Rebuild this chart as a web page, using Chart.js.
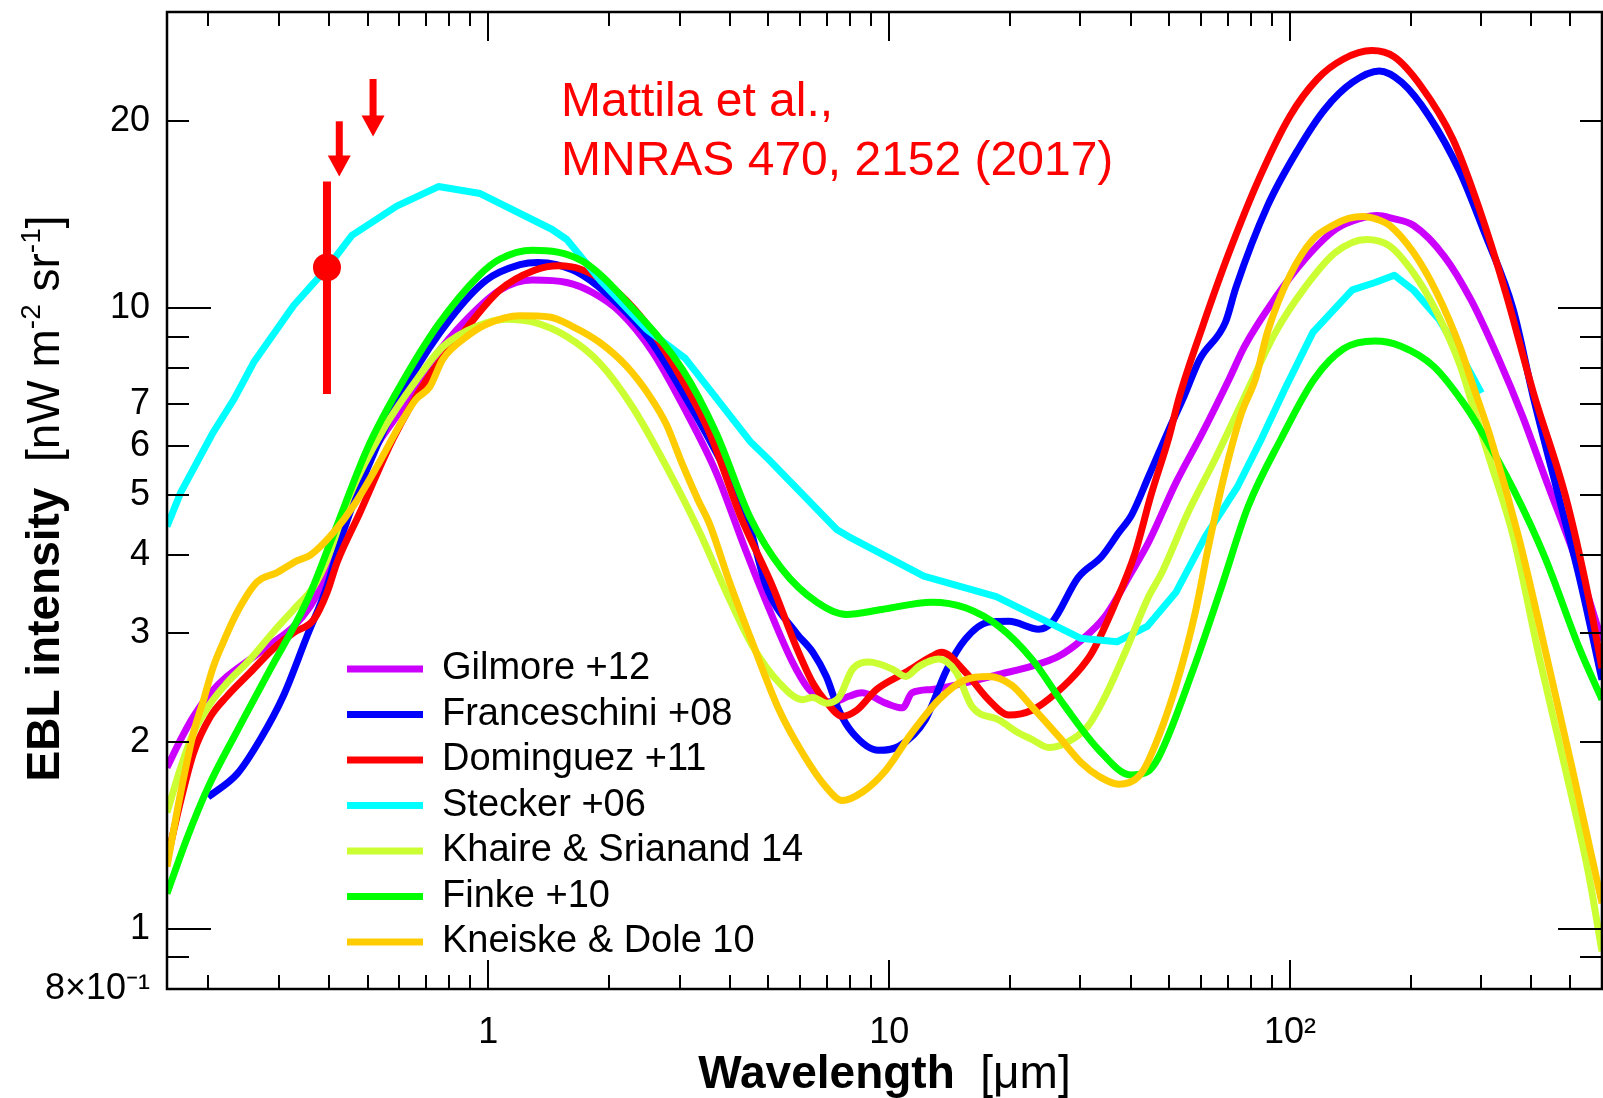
<!DOCTYPE html>
<html>
<head>
<meta charset="utf-8">
<script src="https://cdn.jsdelivr.net/npm/chart.js@4"></script>
<style>
  body { margin: 0; background: #fff; }
  canvas { display: block; }
</style>
</head>
<body>
<canvas id="eblChart" width="1603" height="1098"></canvas>
<script>
// wavelength [um], intensity [nW m^-2 sr^-1]
const gilmore = [[0.158,1.82],[0.171,2.02],[0.184,2.2],[0.203,2.4],[0.223,2.55],[0.255,2.72],[0.29,2.89],[0.327,3.07],[0.36,3.31],[0.388,3.62],[0.41,3.93],[0.5,5.64],[0.6,6.8],[0.73,8.3],[0.884,9.6],[1.07,10.7],[1.29,11.1],[1.57,11.0],[1.82,10.6],[2.13,9.86],[2.57,8.5],[3.12,6.8],[3.7,5.44],[4.4,4.05],[4.94,3.36],[5.74,2.69],[6.32,2.43],[7.23,2.32],[7.94,2.37],[8.55,2.4],[9.8,2.31],[10.8,2.27],[11.4,2.4],[12.8,2.43],[15.5,2.49],[18.8,2.57],[22.7,2.65],[26.5,2.75],[30.2,2.92],[34.6,3.19],[40.2,3.75],[44.4,4.2],[51.9,5.23],[60.4,6.29],[70.5,7.69],[77,8.68],[92,10.4],[109,12.0],[130,13.4],[150,13.95],[165,14.1],[180,13.95],[203,13.6],[243,12.1],[283,10.3],[331,8.3],[380,6.7],[432,5.35],[527,3.79],[600,2.91]];
const franceschini = [[0.2,1.63],[0.237,1.78],[0.27,2.02],[0.308,2.37],[0.353,2.96],[0.396,3.56],[0.434,4.35],[0.528,6.0],[0.638,7.68],[0.803,9.6],[0.99,11.1],[1.2,11.75],[1.33,11.85],[1.48,11.75],[1.72,11.3],[2.09,10.2],[2.53,8.9],[3.05,7.33],[3.7,5.86],[4.4,4.65],[4.94,3.56],[5.86,3.0],[6.45,2.79],[6.97,2.55],[7.49,2.25],[8.1,2.07],[9.4,1.94],[10.6,1.97],[12.3,2.17],[13.9,2.61],[15.5,2.93],[17.7,3.12],[19.9,3.13],[23.6,3.04],[25.5,3.12],[29.6,3.68],[33.9,3.98],[37.4,4.35],[40.3,4.65],[44.4,5.36],[49.9,6.38],[54.4,7.21],[59.5,8.27],[69,9.49],[73.3,10.8],[87.8,14.6],[104.6,18.0],[122,20.9],[143,23.1],[167,24.1],[190,23.1],[222,20.4],[265,16.6],[306,13.2],[360,9.97],[404,7.21],[469,4.94],[527,3.68],[600,2.52]];
const dominguez = [[0.158,1.29],[0.171,1.61],[0.184,1.92],[0.203,2.2],[0.223,2.37],[0.255,2.59],[0.29,2.82],[0.327,3.0],[0.367,3.15],[0.396,3.48],[0.42,3.9],[0.479,4.69],[0.579,6.16],[0.703,7.68],[0.85,9.0],[1.07,10.7],[1.3,11.5],[1.5,11.7],[1.7,11.55],[2.0,10.9],[2.43,9.6],[2.94,7.97],[3.56,6.31],[4.27,4.6],[5.12,3.56],[5.86,2.85],[6.45,2.49],[6.97,2.32],[7.64,2.2],[8.3,2.25],[9.3,2.43],[11.0,2.59],[12.8,2.75],[13.5,2.79],[15.5,2.59],[17.7,2.34],[19.9,2.21],[22.7,2.25],[26.1,2.4],[30.2,2.64],[32.1,2.79],[36.3,3.3],[41,4.02],[45,5.0],[49.9,6.2],[53,7.21],[60.5,9.34],[70.5,12.3],[84.2,16.3],[100,20.4],[117,23.4],[136,25.2],[160,26.0],[182,25.4],[212,22.8],[255,18.7],[295,14.6],[345,10.6],[404,7.33],[488,4.94],[555,3.43],[600,2.63]];
const stecker = [[0.158,4.45],[0.171,5.05],[0.206,6.31],[0.232,7.13],[0.26,8.18],[0.327,10.1],[0.396,11.6],[0.457,13.1],[0.517,13.8],[0.591,14.6],[0.751,15.7],[0.955,15.3],[1.44,13.4],[1.57,12.9],[1.9,11.1],[2.48,9.25],[3.1,8.3],[4.5,6.1],[5.0,5.71],[7.4,4.4],[7.9,4.29],[12.2,3.7],[18.5,3.43],[30,2.94],[37,2.9],[44,3.07],[52,3.49],[61.5,4.29],[74,5.16],[85,6.17],[97,7.4],[114,9.14],[143,10.7],[163,11.0],[182,11.3],[203,10.7],[235,9.6],[270,8.28],[300,7.3]];
const khaire = [[0.158,1.54],[0.171,1.82],[0.184,2.07],[0.203,2.31],[0.223,2.49],[0.255,2.72],[0.29,3.0],[0.327,3.27],[0.367,3.56],[0.396,3.93],[0.45,4.97],[0.547,6.37],[0.664,7.68],[0.77,8.66],[0.937,9.35],[1.11,9.6],[1.29,9.5],[1.57,9.0],[1.9,8.15],[2.29,6.93],[2.78,5.56],[3.37,4.35],[3.93,3.48],[4.57,2.85],[5.32,2.49],[6.08,2.34],[6.45,2.36],[6.97,2.31],[7.5,2.36],[8.1,2.62],[8.9,2.69],[10.2,2.62],[11.0,2.55],[11.9,2.65],[13.3,2.72],[14.7,2.59],[16.1,2.28],[18.8,2.17],[21.0,2.07],[22.7,2.02],[25,1.96],[27.5,1.99],[31.3,2.12],[34.6,2.37],[38.8,2.79],[44.4,3.43],[47.9,3.75],[55.7,4.69],[65,5.71],[75.5,7.0],[92,9.14],[109,10.8],[130,12.3],[155,12.9],[177,12.6],[203,11.4],[232,9.86],[266,8.07],[283,7.1],[314,5.73],[361,4.27],[418,2.75],[490,1.77],[555,1.23],[600,0.92]];
const finke = [[0.158,1.14],[0.178,1.41],[0.2,1.69],[0.237,2.09],[0.286,2.62],[0.354,3.39],[0.41,4.3],[0.5,5.95],[0.6,7.45],[0.75,9.4],[0.95,11.3],[1.07,12.0],[1.29,12.4],[1.72,11.9],[2.29,10.0],[3.05,7.97],[3.7,6.3],[4.5,4.6],[5.4,3.8],[6.6,3.36],[7.8,3.21],[9.6,3.27],[12.8,3.36],[15.5,3.29],[18.8,3.07],[22.7,2.72],[27.5,2.28],[33.4,1.94],[40,1.77],[44,1.79],[47,1.89],[57,2.59],[67.5,3.56],[78.6,4.79],[95,6.16],[115,7.69],[136,8.6],[163,8.85],[189,8.68],[228,8.06],[270,7.05],[295,6.45],[361,5.1],[432,3.97],[527,2.83],[600,2.34]];
const kneiske = [[0.158,1.26],[0.171,1.66],[0.184,2.07],[0.195,2.34],[0.206,2.64],[0.218,2.89],[0.236,3.23],[0.265,3.62],[0.297,3.75],[0.334,3.92],[0.36,4.0],[0.411,4.35],[0.46,4.79],[0.528,5.56],[0.603,6.5],[0.66,7.13],[0.715,7.47],[0.77,8.27],[0.884,9.0],[0.99,9.42],[1.2,9.72],[1.42,9.68],[1.62,9.35],[1.9,8.8],[2.21,8.07],[2.53,7.21],[2.78,6.5],[3.05,5.6],[3.34,4.9],[3.56,4.5],[3.98,3.65],[4.55,2.9],[5.32,2.25],[6.08,1.92],[6.97,1.69],[7.64,1.61],[8.56,1.66],[9.8,1.8],[11.4,2.07],[13.3,2.34],[15.5,2.52],[17.7,2.55],[20.2,2.47],[22.7,2.28],[26.5,2.04],[30.2,1.85],[33.4,1.76],[37.4,1.71],[41.9,1.76],[44.4,1.87],[51.9,2.46],[58,3.23],[62.6,4.13],[68.8,5.43],[75.8,6.8],[82,7.69],[87.8,9.14],[100,11.3],[114,12.9],[128,13.6],[140,13.95],[152,14.05],[165,13.9],[177,13.6],[203,12.3],[232,10.6],[265,8.68],[286,7.5],[317,6.16],[372,4.27],[432,2.83],[505,1.82],[600,1.1]];

// Mattila et al. 2017 measurement and upper limits
const mattilaX = [0.396];
const mattilaY = [11.63];
const mattilaLow = [7.27];
const mattilaHigh = [16.0];
const limitX = [0.425, 0.516];
const limitTop = [20.0, 23.4];
const limitTip = [16.3, 18.9];

// axis ticks
const xTickValues = [0.2,0.3,0.4,0.5,0.6,0.7,0.8,0.9,1,2,3,4,5,6,7,8,9,10,20,30,40,50,60,70,80,90,100,200,300,400,500];
const xMajor = [1, 10, 100];
const xTickLabels = { 1: "1", 10: "10", 100: "10²" };
const yTickValues = [0.9,1,2,3,4,5,6,7,8,9,10,20];
const yMajor = [1, 10];
const yTickLabels = { 0.8: "8×10⁻¹", 1: "1", 2: "2", 3: "3", 4: "4", 5: "5", 6: "6", 7: "7", 10: "10", 20: "20" };
const yLabelValues = [0.8,0.9,1,2,3,4,5,6,7,8,9,10,20];

const FONT = "'Liberation Sans', Arial, Helvetica, sans-serif";

const models = [
  { label: "Gilmore +12", color: "#cc00ff", points: gilmore },
  { label: "Franceschini +08", color: "#0000ff", points: franceschini },
  { label: "Dominguez +11", color: "#ff0000", points: dominguez },
  { label: "Stecker +06", color: "#00ffff", points: stecker, straight: true },
  { label: "Khaire & Srianand 14", color: "#ccff33", points: khaire },
  { label: "Finke +10", color: "#00ff00", points: finke },
  { label: "Kneiske & Dole 10", color: "#ffcc00", points: kneiske },
];

const datasets = models.map((m, i) => ({
  label: m.label,
  data: m.points.map((p) => ({ x: p[0], y: p[1] })),
  borderColor: m.color,
  backgroundColor: m.color,
  borderWidth: 7,
  pointRadius: 0,
  fill: false,
  tension: m.straight ? 0 : 0.4,
  cubicInterpolationMode: m.straight ? "default" : "monotone",
  borderJoinStyle: "round",
  clip: 0,
  order: 20 - i,
}));

datasets.push({
  label: "errorbar",
  data: [{ x: mattilaX[0], y: mattilaLow[0] }, { x: mattilaX[0], y: mattilaHigh[0] }],
  borderColor: "#ff0000",
  borderWidth: 8,
  pointRadius: 0,
  tension: 0,
  order: 1,
});
datasets.push({
  label: "Mattila",
  type: "scatter",
  data: mattilaX.map((x, i) => ({ x: x, y: mattilaY[i] })),
  backgroundColor: "#ff0000",
  borderWidth: 0,
  pointRadius: 14,
  order: 0,
});

const whiteBg = {
  id: "whiteBg",
  beforeDraw(chart) {
    const ctx = chart.ctx;
    ctx.save();
    ctx.fillStyle = "#fff";
    ctx.fillRect(0, 0, chart.width, chart.height);
    ctx.restore();
  },
};

// frame with inward ticks on all four sides
const frame = {
  id: "frame",
  afterDatasetsDraw(chart) {
    const { ctx, chartArea: a, scales } = chart;
    ctx.save();
    ctx.strokeStyle = "#000";
    ctx.lineWidth = 2;
    ctx.beginPath();
    xTickValues.forEach((v) => {
      const px = Math.round(scales.x.getPixelForValue(v));
      const len = xMajor.includes(v) ? 29 : 14;
      ctx.moveTo(px, a.bottom);
      ctx.lineTo(px, a.bottom - len);
      ctx.moveTo(px, a.top);
      ctx.lineTo(px, a.top + len);
    });
    yTickValues.forEach((v) => {
      const py = Math.round(scales.y.getPixelForValue(v));
      const len = yMajor.includes(v) ? 44 : 22;
      ctx.moveTo(a.left, py);
      ctx.lineTo(a.left + len, py);
      ctx.moveTo(a.right, py);
      ctx.lineTo(a.right - len, py);
    });
    ctx.stroke();
    ctx.lineWidth = 2.5;
    ctx.strokeRect(a.left, a.top, a.right - a.left, a.bottom - a.top);
    ctx.restore();
  },
};

function placeRuns(ctx, runs, cx, baseY) {
  let w = 0;
  runs.forEach((r) => {
    ctx.font = r.f;
    w += ctx.measureText(r.t).width;
  });
  let x = cx - w / 2;
  runs.forEach((r) => {
    ctx.font = r.f;
    ctx.fillText(r.t, x, baseY + (r.dy || 0));
    x += ctx.measureText(r.t).width;
  });
}

const decorations = {
  id: "decorations",
  afterDraw(chart) {
    const { ctx, chartArea: a, scales } = chart;
    ctx.save();
    ctx.textAlign = "left";
    ctx.textBaseline = "alphabetic";

    // axis titles
    ctx.fillStyle = "#000";
    const big = "46px " + FONT;
    const sup = "28px " + FONT;
    placeRuns(ctx, [
      { t: "Wavelength", f: "bold " + big },
      { t: "  [μm]", f: big },
    ], (a.left + a.right) / 2, 1088);

    ctx.save();
    ctx.translate(59, (a.top + a.bottom) / 2 - 2);
    ctx.rotate(-Math.PI / 2);
    placeRuns(ctx, [
      { t: "EBL intensity", f: "bold " + big },
      { t: "  [nW m", f: big },
      { t: "-2", f: sup, dy: -19 },
      { t: " sr", f: big },
      { t: "-1", f: sup, dy: -19 },
      { t: "]", f: big },
    ], 0, 0);
    ctx.restore();

    // legend
    models.forEach((m, i) => {
      const ly = 669 + i * 45.5;
      ctx.strokeStyle = m.color;
      ctx.lineWidth = 7;
      ctx.beginPath();
      ctx.moveTo(347, ly);
      ctx.lineTo(423, ly);
      ctx.stroke();
      ctx.fillStyle = "#000";
      ctx.font = "38px " + FONT;
      ctx.fillText(m.label, 442, ly + 10);
    });

    // Mattila upper limits
    ctx.fillStyle = "#ff0000";
    limitX.forEach((v, i) => {
      const px = scales.x.getPixelForValue(v);
      const top = scales.y.getPixelForValue(limitTop[i]);
      const tip = scales.y.getPixelForValue(limitTip[i]);
      const headLen = 21;
      ctx.fillRect(px - 3.5, top, 7, tip - top - headLen + 2);
      ctx.beginPath();
      ctx.moveTo(px - 11.5, tip - headLen);
      ctx.lineTo(px + 11.5, tip - headLen);
      ctx.lineTo(px, tip);
      ctx.closePath();
      ctx.fill();
    });

    // reference note
    ctx.font = "48px " + FONT;
    ctx.fillText("Mattila et al.,", 561, 116);
    ctx.fillText("MNRAS 470, 2152 (2017)", 561, 175);
    ctx.restore();
  },
};

function noEdgePadding(s) {
  s.paddingLeft = 0;
  s.paddingRight = 0;
  s.paddingTop = 0;
  s.paddingBottom = 0;
}

new Chart(document.getElementById("eblChart"), {
  type: "line",
  data: { datasets: datasets },
  options: {
    responsive: false,
    animation: false,
    devicePixelRatio: 1,
    layout: { autoPadding: false, padding: { top: 12, right: 1, left: 0, bottom: 0 } },
    scales: {
      x: {
        type: "logarithmic",
        min: 0.158,
        max: 600,
        grid: { display: false, drawTicks: false },
        border: { display: false },
        afterBuildTicks: (s) => {
          s.ticks = xTickValues.map((v) => ({ value: v }));
        },
        afterFit: (s) => {
          s.height = 109;
          noEdgePadding(s);
        },
        ticks: {
          autoSkip: false,
          maxRotation: 0,
          padding: 22,
          color: "#000",
          font: { family: FONT, size: 36 },
          callback: (v) => xTickLabels[v] || "",
        },
      },
      y: {
        type: "logarithmic",
        min: 0.8,
        max: 30,
        grid: { display: false, drawTicks: false },
        border: { display: false },
        afterBuildTicks: (s) => {
          s.ticks = yLabelValues.map((v) => ({ value: v }));
        },
        afterFit: (s) => {
          s.width = 167;
          noEdgePadding(s);
        },
        ticks: {
          autoSkip: false,
          padding: 17,
          color: "#000",
          font: { family: FONT, size: 36 },
          callback: (v) => yTickLabels[v] || "",
        },
      },
    },
    plugins: {
      legend: { display: false },
      tooltip: { enabled: false },
    },
  },
  plugins: [whiteBg, frame, decorations],
});
</script>
</body>
</html>
